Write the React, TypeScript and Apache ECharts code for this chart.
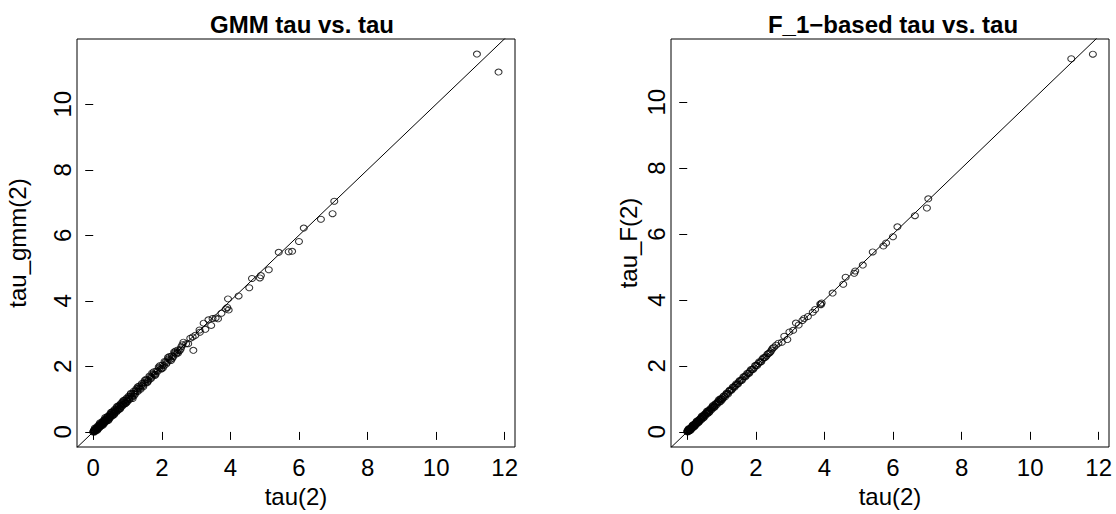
import React, { useEffect, useRef } from "react";
import * as echarts from "echarts";

const xTicks = [0, 2, 4, 6, 8, 10, 12];
const yTicks = [0, 2, 4, 6, 8, 10];

const titleGmm = "GMM tau vs. tau";
const titleF = "F_1\u2212based tau vs. tau";
const xName = "tau(2)";
const yNameGmm = "tau_gmm(2)";
const yNameF = "tau_F(2)";

// Left panel: tau vs. GMM tau
const gmmX = [
  0.00, 0.01, 0.02, 0.03, 0.04, 0.05, 0.06, 0.07, 0.08, 0.10, 0.11, 0.12, 0.14, 0.15, 0.17, 0.18, 0.20, 0.21, 0.23, 0.25,
  0.27, 0.28, 0.30, 0.32, 0.34, 0.35, 0.37, 0.39, 0.41, 0.43, 0.45, 0.47, 0.49, 0.51, 0.53, 0.55, 0.57, 0.59, 0.62, 0.64,
  0.66, 0.69, 0.71, 0.74, 0.76, 0.79, 0.81, 0.84, 0.87, 0.90, 0.93, 0.96, 0.99, 1.02, 1.05, 1.08, 1.12, 1.15, 1.16, 1.20,
  1.24, 1.28, 1.32, 1.36, 1.40, 1.44, 1.48, 1.52, 1.57, 1.61, 1.66, 1.70, 1.75, 1.79, 1.84, 1.88, 1.93, 1.97, 2.02, 2.06,
  2.11, 2.15, 2.20, 2.24, 2.29, 2.33, 2.38, 2.42, 2.47, 2.52, 2.57,
  0.05, 0.12, 0.20, 0.28, 0.35, 0.44, 0.52, 0.60, 0.70, 0.78, 0.88, 0.96, 1.10, 1.18, 1.30, 1.38, 1.50, 1.57, 1.72, 1.80,
  1.95, 2.03, 2.18, 2.27, 2.40, 2.47,
  0.02, 0.04, 0.06, 0.09, 0.10, 0.13, 0.15, 0.18, 0.19, 0.22, 0.24, 0.26, 0.29, 0.31, 0.33, 0.36, 0.38, 0.40, 0.42, 0.46,
  0.48, 0.50, 0.54, 0.56, 0.58, 0.61, 0.63, 0.67, 0.68, 0.72, 0.75, 0.77, 0.80, 0.83, 0.85, 0.89, 0.91, 0.94, 0.97, 1.00,
  1.03, 1.06, 1.09, 1.13, 1.19, 1.22, 1.26, 1.30, 1.34, 1.42, 1.46, 1.54, 1.59, 1.64, 1.68, 1.77, 1.82, 1.91, 1.99, 2.08,
  2.13, 2.22, 2.31, 2.36, 2.45, 2.55, 2.60,
  2.63, 2.71, 2.77, 2.83, 2.90, 2.92, 2.98, 3.10, 3.11, 3.22, 3.27, 3.36, 3.44, 3.48, 3.57, 3.64, 3.74, 3.87, 3.91, 3.93,
  3.95, 4.24, 4.55, 4.63, 4.86, 4.89, 5.12, 5.41, 5.70, 5.80, 6.00, 6.14, 6.64, 6.98, 7.03, 11.19, 11.82,
];
const gmmY = [
  0.00, 0.02, 0.01, 0.04, 0.03, 0.06, 0.05, 0.08, 0.07, 0.11, 0.09, 0.13, 0.12, 0.16, 0.15, 0.19, 0.18, 0.23, 0.21, 0.26,
  0.24, 0.30, 0.28, 0.33, 0.31, 0.37, 0.35, 0.40, 0.38, 0.45, 0.42, 0.48, 0.46, 0.53, 0.50, 0.57, 0.54, 0.61, 0.59, 0.66,
  0.63, 0.70, 0.68, 0.76, 0.73, 0.81, 0.78, 0.86, 0.84, 0.92, 0.90, 0.98, 0.96, 1.04, 1.02, 1.10, 1.09, 1.02, 1.18, 1.17,
  1.26, 1.25, 1.34, 1.33, 1.42, 1.41, 1.50, 1.49, 1.59, 1.58, 1.68, 1.67, 1.77, 1.76, 1.86, 1.85, 1.95, 1.93, 2.04, 2.02,
  2.13, 2.12, 2.23, 2.20, 2.32, 2.30, 2.41, 2.38, 2.50, 2.48, 2.60,
  0.12, 0.05, 0.28, 0.20, 0.44, 0.35, 0.60, 0.52, 0.78, 0.70, 0.96, 0.88, 1.18, 1.10, 1.38, 1.30, 1.57, 1.50, 1.80, 1.72,
  2.03, 1.95, 2.27, 2.18, 2.47, 2.40,
  0.05, 0.00, 0.10, 0.05, 0.14, 0.08, 0.20, 0.13, 0.24, 0.17, 0.29, 0.21, 0.34, 0.25, 0.38, 0.30, 0.43, 0.34, 0.48, 0.39,
  0.53, 0.44, 0.60, 0.49, 0.64, 0.55, 0.69, 0.60, 0.74, 0.65, 0.81, 0.70, 0.86, 0.77, 0.91, 0.83, 0.97, 0.87, 1.03, 0.93,
  1.09, 0.99, 1.15, 1.06, 1.25, 1.15, 1.32, 1.23, 1.40, 1.48, 1.38, 1.61, 1.53, 1.71, 1.62, 1.84, 1.76, 1.98, 1.92, 2.15,
  2.07, 2.30, 2.25, 2.44, 2.42, 2.53, 2.66,
  2.74, 2.69, 2.69, 2.86, 2.90, 2.49, 2.95, 3.11, 3.04, 3.32, 3.13, 3.42, 3.25, 3.46, 3.48, 3.45, 3.62, 3.75, 3.80, 4.06,
  3.72, 4.15, 4.40, 4.68, 4.70, 4.77, 4.95, 5.48, 5.50, 5.51, 5.81, 6.22, 6.49, 6.66, 7.04, 11.53, 10.98,
];

// Right panel: tau vs. F_1-based tau
const fX = [
  0.00, 0.01, 0.02, 0.03, 0.05, 0.06, 0.08, 0.10, 0.11, 0.13, 0.15, 0.17, 0.19, 0.21, 0.23, 0.25, 0.27, 0.30, 0.32, 0.35,
  0.37, 0.40, 0.42, 0.45, 0.48, 0.51, 0.54, 0.57, 0.60, 0.63, 0.66, 0.70, 0.73, 0.77, 0.80, 0.84, 0.88, 0.92, 0.96, 1.00,
  1.04, 1.08, 1.13, 1.17, 1.22, 1.26, 1.31, 1.36, 1.41, 1.46, 1.51, 1.56, 1.61, 1.67, 1.72, 1.78, 1.83, 1.89, 1.95, 2.01,
  2.07, 2.13, 2.19, 2.25, 2.31, 2.37, 2.43,
  0.04, 0.09, 0.16, 0.21, 0.28, 0.33, 0.43, 0.48, 0.58, 0.63, 0.75, 0.80, 0.93, 0.98,
  0.01, 0.03, 0.04, 0.07, 0.08, 0.11, 0.12, 0.14, 0.16, 0.18, 0.20, 0.22, 0.24, 0.26, 0.29, 0.31, 0.34, 0.36, 0.39, 0.41,
  0.44, 0.46, 0.50, 0.52, 0.55, 0.59, 0.61, 0.65, 0.68, 0.71, 0.74, 0.78, 0.82, 0.86, 0.90, 0.94, 0.98, 1.02, 1.06, 1.10,
  1.15, 1.19, 1.24, 1.29, 1.33, 1.38, 1.43, 1.48, 1.53, 1.59, 1.64, 1.70, 1.75, 1.81, 1.86, 1.92, 1.98, 2.04, 2.10, 2.16,
  2.22, 2.28, 2.34, 2.40, 2.46, 2.53, 2.66,
  2.49, 2.59, 2.76, 2.83, 2.92, 2.98, 3.09, 3.17, 3.25, 3.36, 3.41, 3.52, 3.66, 3.73, 3.88, 3.90, 3.92, 4.24, 4.55, 4.62,
  4.87, 4.90, 5.12, 5.41, 5.72, 5.80, 6.00, 6.13, 6.64, 6.99, 7.03, 11.20, 11.83,
];
const fY = [
  0.00, 0.01, 0.03, 0.02, 0.05, 0.07, 0.08, 0.09, 0.12, 0.13, 0.14, 0.18, 0.19, 0.20, 0.24, 0.25, 0.26, 0.31, 0.32, 0.34,
  0.38, 0.40, 0.41, 0.46, 0.48, 0.50, 0.55, 0.57, 0.59, 0.64, 0.66, 0.69, 0.74, 0.77, 0.79, 0.85, 0.88, 0.91, 0.97, 1.00,
  1.03, 1.09, 1.13, 1.16, 1.23, 1.26, 1.30, 1.37, 1.41, 1.45, 1.52, 1.56, 1.60, 1.68, 1.72, 1.77, 1.84, 1.89, 1.94, 2.02,
  2.07, 2.12, 2.20, 2.25, 2.30, 2.38, 2.43,
  0.09, 0.04, 0.21, 0.16, 0.33, 0.28, 0.48, 0.43, 0.63, 0.58, 0.80, 0.75, 0.98, 0.93,
  0.04, 0.00, 0.07, 0.03, 0.11, 0.07, 0.15, 0.10, 0.19, 0.14, 0.23, 0.18, 0.27, 0.22, 0.32, 0.27, 0.37, 0.32, 0.42, 0.37,
  0.47, 0.42, 0.53, 0.48, 0.58, 0.55, 0.64, 0.61, 0.71, 0.67, 0.77, 0.74, 0.85, 0.82, 0.93, 0.90, 1.01, 0.98, 1.09, 1.06,
  1.18, 1.15, 1.27, 1.26, 1.36, 1.35, 1.46, 1.45, 1.56, 1.56, 1.67, 1.67, 1.78, 1.78, 1.89, 1.89, 2.01, 2.01, 2.13, 2.13,
  2.25, 2.26, 2.36, 2.39, 2.48, 2.57, 2.69,
  2.54, 2.63, 2.72, 2.90, 2.80, 3.03, 3.08, 3.30, 3.24, 3.38, 3.44, 3.50, 3.63, 3.71, 3.88, 3.86, 3.91, 4.21, 4.48, 4.69,
  4.81, 4.88, 5.06, 5.46, 5.64, 5.73, 5.92, 6.22, 6.56, 6.79, 7.07, 11.32, 11.46,
];

const FONT = "'Liberation Sans', Arial, Helvetica, sans-serif";

function zip(xs: number[], ys: number[]) {
  return xs.map((x, i) => [x, ys[i]]);
}

function makeXAxis(gridIndex: number) {
  return {
    type: "value",
    gridIndex,
    min: -0.473,
    max: 12.3,
    axisLine: { show: false },
    splitLine: { show: false },
    axisTick: {
      show: true,
      inside: false,
      length: 8,
      customValues: xTicks,
      lineStyle: { color: "#000", width: 1 },
    },
    axisLabel: {
      customValues: xTicks,
      color: "#000",
      fontSize: 24,
      fontFamily: FONT,
      margin: 8,
    },
    name: xName,
    nameLocation: "middle",
    nameGap: 37,
    nameTextStyle: { color: "#000", fontSize: 24, fontFamily: FONT },
  };
}

function makeYAxis(gridIndex: number, max: number, name: string, nameGap: number) {
  return {
    type: "value",
    gridIndex,
    min: -0.46,
    max,
    axisLine: { show: false },
    splitLine: { show: false },
    axisTick: {
      show: true,
      inside: false,
      length: 8,
      customValues: yTicks,
      lineStyle: { color: "#000", width: 1 },
    },
    axisLabel: {
      customValues: yTicks,
      color: "#000",
      fontSize: 24,
      fontFamily: FONT,
      rotate: 90,
      margin: 3,
    },
    name,
    nameLocation: "middle",
    nameGap,
    nameRotate: 90,
    nameTextStyle: { color: "#000", fontSize: 24, fontFamily: FONT },
  };
}

function scatter(idx: number, xs: number[], ys: number[]) {
  return {
    type: "scatter",
    xAxisIndex: idx,
    yAxisIndex: idx,
    data: zip(xs, ys),
    symbol: "circle",
    symbolSize: [7, 6],
    itemStyle: { color: "rgba(0,0,0,0)", borderColor: "#000", borderWidth: 1 },
    silent: true,
    z: 3,
  };
}

function diagonal(idx: number) {
  return {
    type: "line",
    xAxisIndex: idx,
    yAxisIndex: idx,
    data: [
      [-1, -1],
      [13, 13],
    ],
    symbol: "none",
    clip: true,
    lineStyle: { color: "#000", width: 1 },
    silent: true,
    z: 2,
  };
}

export default function App() {
  const ref = useRef<HTMLDivElement>(null);
  useEffect(() => {
    if (!ref.current) return;
    const chart = echarts.init(ref.current, null, { renderer: "svg" });
    chart.setOption({
      animation: false,
      backgroundColor: "#fff",
      title: [
        {
          text: titleGmm,
          left: 297,
          top: 7,
          textAlign: "center",
          textStyle: { color: "#000", fontSize: 24, fontWeight: "bold", fontFamily: FONT },
        },
        {
          text: titleF,
          left: 888,
          top: 7,
          textAlign: "center",
          textStyle: { color: "#000", fontSize: 24, fontWeight: "bold", fontFamily: FONT },
        },
      ],
      grid: [
        { left: 77, top: 39, width: 438, height: 408, show: true, borderColor: "#000", borderWidth: 1, backgroundColor: "transparent" },
        { left: 671, top: 39, width: 438, height: 408, show: true, borderColor: "#000", borderWidth: 1, backgroundColor: "transparent" },
      ],
      xAxis: [makeXAxis(0), makeXAxis(1)],
      yAxis: [makeYAxis(0, 11.99, yNameGmm, 48), makeYAxis(1, 11.92, yNameF, 31)],
      series: [diagonal(0), scatter(0, gmmX, gmmY), diagonal(1), scatter(1, fX, fY)],
    });
    return () => chart.dispose();
  }, []);
  return (
    <div
      ref={ref}
      style={{ position: "fixed", left: 0, top: 0, width: 1116, height: 514, background: "#fff" }}
    />
  );
}
